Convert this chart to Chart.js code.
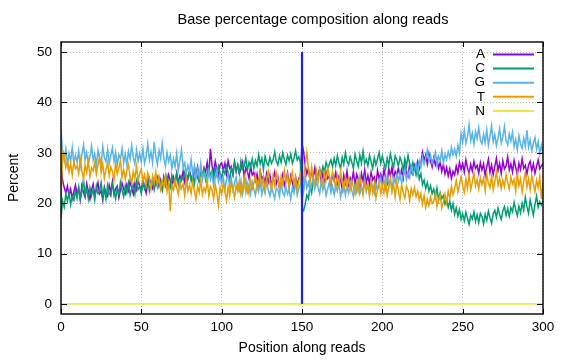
<!DOCTYPE html>
<html>
<head>
<meta charset="utf-8">
<title>Base percentage composition along reads</title>
<script src="https://cdn.jsdelivr.net/npm/chart.js@4.4.1/dist/chart.umd.min.js"></script>
<style>
  html, body { margin: 0; padding: 0; background: #fff; }
  #wrap { width: 576px; height: 360px; }
</style>
</head>
<body>
<div id="wrap"><canvas id="chart" width="576" height="360"></canvas></div>
<script>
// percent of each base at read positions 0..300 (index = position)
const pctA = [
  27.2, 24.5, 23.1, 22.0, 23.4, 21.5, 22.8, 20.9, 22.3, 23.6,
  21.8, 22.9, 20.7, 23.5, 22.1, 21.2, 23.9, 22.4, 20.8, 22.6,
  23.8, 21.5, 22.7, 24.1, 21.9, 22.5, 20.6, 23.2, 22.0, 21.4,
  23.6, 22.2, 24.3, 21.7, 22.9, 23.4, 21.1, 22.6, 24.0, 22.8,
  21.9, 23.7, 22.5, 24.4, 23.0, 21.8, 23.9, 22.7, 24.6, 23.3,
  22.4, 24.8, 23.1, 22.0, 24.2, 25.0, 23.6, 22.9, 24.7, 23.8,
  25.1, 23.4, 24.6, 22.8, 25.3, 24.0, 23.2, 25.6, 24.4, 23.7,
  25.2, 24.1, 26.0, 23.9, 25.4, 24.7, 26.3, 24.2, 25.8, 24.9,
  26.4, 25.1, 24.3, 26.7, 25.5, 27.2, 24.8, 26.1, 25.3, 27.0,
  26.2, 28.1, 25.6, 30.8, 27.4, 26.0, 28.3, 26.8, 25.4, 27.6,
  28.0, 26.5, 27.9, 25.8, 28.4, 26.9, 27.3, 25.7, 28.2, 26.4,
  27.5, 25.9, 26.8, 28.1, 25.2, 27.0, 26.3, 24.9, 27.4, 25.6,
  26.1, 24.5, 25.8, 23.7, 26.4, 24.8, 25.3, 23.9, 25.9, 24.2,
  25.6, 23.4, 24.9, 26.2, 23.8, 25.1, 22.9, 24.6, 25.8, 23.5,
  24.7, 26.0, 23.2, 25.4, 24.1, 22.8, 25.2, 23.6, 24.9, 25.5,
  32.0, 30.2, 27.4, 25.8, 26.9, 24.6, 26.3, 25.1, 27.0, 24.4,
  25.7, 26.8, 24.3, 25.9, 23.8, 26.2, 24.9, 25.4, 23.6, 25.8,
  24.5, 26.1, 23.9, 25.3, 24.7, 22.8, 25.6, 24.0, 26.4, 23.7,
  25.0, 24.2, 26.3, 23.5, 25.7, 24.8, 23.1, 25.9, 24.4, 26.6,
  24.0, 25.5, 23.8, 26.1, 24.6, 25.2, 23.4, 26.5, 24.9, 25.8,
  24.3, 26.7, 25.1, 24.0, 26.9, 25.4, 27.2, 24.8, 26.3, 25.6,
  27.0, 25.2, 26.6, 24.9, 27.4, 26.0, 25.3, 27.8, 26.2, 25.7,
  27.5, 26.4, 28.2, 26.8, 27.9, 30.1, 28.5, 29.6, 27.8, 29.9,
  28.4, 27.2, 29.0, 27.6, 28.8, 26.9, 28.1, 26.3, 27.7, 25.8,
  27.1, 25.4, 26.8, 24.9, 26.3, 25.6, 27.4, 26.0, 28.1, 26.7,
  27.9, 26.2, 28.6, 27.0, 25.8, 27.7, 26.4, 28.3, 26.9, 27.5,
  25.9, 28.0, 26.6, 27.8, 25.5, 27.2, 28.7, 26.1, 27.6, 25.7,
  27.3, 28.9, 26.5, 27.9, 25.9, 28.4, 26.8, 27.4, 29.2, 26.6,
  27.8, 26.2, 28.5, 27.1, 25.6, 27.9, 26.7, 28.8, 26.9, 27.5,
  25.8, 27.6, 28.3, 26.4, 27.8, 25.9, 27.3, 28.6, 26.8, 27.4,
  27.9
];
const pctC = [
  17.0, 20.5, 19.2, 21.8, 20.4, 22.1, 19.7, 21.3, 20.6, 22.5,
  21.0, 23.2, 20.8, 22.4, 24.6, 21.7, 22.9, 20.9, 23.1, 21.5,
  22.8, 20.6, 23.4, 21.9, 22.3, 24.1, 21.2, 22.7, 20.8, 23.6,
  22.0, 21.4, 23.8, 22.5, 20.9, 23.0, 21.8, 24.2, 22.6, 21.3,
  23.5, 22.1, 24.0, 21.6, 22.9, 23.7, 21.8, 24.4, 22.7, 23.3,
  21.9, 24.1, 22.8, 23.6, 25.0, 22.4, 23.9, 24.6, 22.7, 24.3,
  23.2, 25.1, 23.8, 22.6, 24.9, 23.5, 25.4, 24.0, 23.1, 25.6,
  24.3, 23.6, 25.8, 24.5, 23.2, 25.3, 24.7, 26.1, 23.9, 25.0,
  26.2, 24.4, 25.7, 23.8, 26.5, 25.1, 24.2, 26.0, 25.4, 26.8,
  24.6, 25.9, 27.1, 25.3, 26.4, 24.8, 26.9, 25.5, 27.3, 26.0,
  24.9, 26.7, 25.8, 27.4, 26.1, 24.6, 27.0, 25.7, 28.2, 26.3,
  27.6, 25.9, 28.4, 26.8, 27.3, 29.0, 26.5, 28.1, 27.2, 28.8,
  26.9, 28.5, 27.4, 29.6, 27.8, 28.9, 26.7, 29.3, 28.0, 27.5,
  29.1, 27.9, 28.6, 30.2, 28.3, 27.6, 29.4, 28.1, 30.0, 28.7,
  27.7, 29.5, 28.4, 29.8, 27.9, 28.9, 30.4, 28.6, 29.2, 28.1,
  19.0, 18.5, 19.8, 21.6, 20.9, 23.4, 22.1, 24.5, 23.7, 25.9,
  24.8, 26.6, 25.7, 27.3, 26.2, 28.1, 26.9, 27.8, 28.6, 27.2,
  28.9, 27.5, 29.4, 28.0, 26.8, 29.1, 27.7, 30.0, 28.3, 27.6,
  29.2, 28.1, 26.9, 29.7, 28.4, 27.3, 29.6, 28.0, 30.3, 27.8,
  28.7, 27.4, 29.5, 28.2, 26.9, 29.0, 27.6, 28.8, 30.1, 27.9,
  29.3, 28.0, 26.8, 28.9, 27.5, 29.8, 28.3, 27.1, 29.4, 28.6,
  27.4, 29.1, 28.2, 26.6, 28.8, 27.3, 29.5, 27.8, 26.4, 28.1,
  26.9, 25.6, 27.3, 24.8, 25.9, 23.7, 24.6, 22.9, 24.1, 22.4,
  23.5, 21.9, 22.8, 21.2, 23.0, 20.6, 22.1, 20.9, 21.5, 19.8,
  20.7, 19.2, 20.4, 18.6, 19.9, 17.8, 19.1, 17.4, 18.7, 16.8,
  17.9, 16.5, 18.2, 17.0, 15.8, 17.6, 16.9, 18.3, 16.4, 17.7,
  16.1, 18.0, 17.3, 15.9, 17.8, 16.6, 18.4, 17.1, 16.0, 17.9,
  18.6, 17.2, 19.0, 17.7, 16.8, 18.5, 19.3, 17.6, 18.9, 17.4,
  19.1, 18.3, 20.2, 18.7, 17.5, 19.4, 18.1, 20.0, 18.6, 21.2,
  19.3, 18.0, 20.6, 19.1, 17.6, 19.8, 21.4, 19.2, 20.3, 19.6,
  20.4
];
const pctG = [
  34.5, 30.2, 28.4, 30.8, 27.6, 29.9, 28.3, 31.1, 27.9, 29.5,
  28.1, 30.4, 27.3, 29.7, 31.6, 28.5, 30.0, 27.8, 29.2, 31.4,
  28.6, 29.8, 27.4, 30.5, 28.9, 27.7, 31.2, 29.0, 28.2, 30.7,
  27.9, 29.4, 31.0, 28.3, 30.1, 27.5, 29.6, 28.8, 30.9, 28.0,
  29.7, 27.6, 30.3, 28.7, 31.5, 29.1, 27.8, 30.6, 28.4, 29.9,
  28.2, 30.8, 27.9, 29.3, 31.8, 28.6, 30.2, 28.0, 32.2, 29.4,
  27.7, 30.5, 28.9, 31.9, 29.0, 27.4, 30.1, 28.3, 29.6, 26.9,
  28.8, 27.2, 29.9, 26.5, 28.4, 30.6, 27.1, 28.0, 25.8, 27.5,
  26.3, 28.7, 25.6, 27.4, 24.9, 26.8, 25.2, 27.9, 24.6, 26.1,
  25.3, 23.8, 26.4, 24.7, 25.9, 23.5, 25.0, 26.6, 24.2, 25.4,
  23.9, 25.1, 22.8, 24.6, 25.7, 23.3, 24.8, 22.6, 24.0, 25.2,
  23.1, 22.4, 24.5, 21.8, 23.6, 24.9, 22.3, 23.7, 21.9, 24.2,
  22.8, 21.6, 23.9, 22.4, 24.1, 21.7, 23.2, 22.0, 24.6, 22.5,
  21.4, 23.5, 22.1, 20.9, 23.0, 22.6, 21.3, 24.0, 22.2, 21.5,
  23.3, 21.8, 22.7, 20.8, 23.1, 22.0, 24.2, 21.6, 22.9, 23.8,
  24.6, 22.3, 25.4, 23.0, 24.1, 22.5, 23.7, 25.0, 22.8, 24.3,
  23.1, 21.9, 24.4, 22.6, 23.8, 21.5, 22.9, 24.2, 22.1, 23.4,
  21.7, 23.6, 22.4, 24.0, 21.2, 22.8, 23.9, 21.6, 23.3, 22.0,
  24.1, 22.5, 21.3, 23.7, 22.2, 24.4, 21.9, 23.0, 22.6, 24.8,
  22.3, 23.6, 21.8, 24.5, 23.1, 22.0, 24.0, 22.7, 23.5, 25.1,
  23.2, 24.6, 22.9, 25.3, 23.8, 24.7, 22.6, 25.0, 24.1, 25.8,
  24.4, 26.0, 23.9, 25.5, 26.8, 24.7, 26.2, 25.1, 27.3, 25.9,
  26.6, 27.8, 25.8, 28.4, 27.1, 29.2, 27.7, 28.9, 30.6, 28.3,
  29.5, 27.9, 28.8, 30.1, 27.6, 29.3, 28.5, 30.4, 28.0, 29.7,
  28.7, 30.2, 29.0, 31.1, 29.6, 30.8, 29.3, 31.5, 30.0, 33.8,
  32.1, 34.5, 31.9, 33.2, 35.6, 32.4, 33.9, 31.7, 34.2, 32.8,
  35.0, 32.6, 31.8, 33.7, 32.0, 34.6, 31.5, 33.3, 35.4, 32.2,
  33.6, 31.4, 32.9, 34.8, 31.9, 33.1, 35.2, 32.5, 31.6, 33.8,
  32.3, 34.1, 31.2, 32.7, 30.6, 33.4, 31.8, 30.9, 32.9, 31.3,
  34.5, 31.1, 32.6, 30.4, 31.9, 33.0, 30.7, 32.2, 29.8, 31.5,
  29.9
];
const pctT = [
  20.3, 30.4, 29.8, 27.1, 28.5, 26.2, 27.9, 25.6, 28.3, 26.8,
  27.4, 25.9, 28.8, 26.5, 24.7, 27.6, 26.1, 28.4, 25.3, 27.0,
  26.4, 28.1, 25.7, 27.5, 29.2, 26.0, 27.8, 24.9, 26.6, 28.0,
  25.4, 27.2, 26.3, 24.6, 27.9, 25.8, 26.9, 28.5, 25.1, 26.7,
  24.8, 26.5, 27.7, 25.2, 23.9, 26.3, 25.0, 27.4, 24.5, 25.9,
  26.8, 24.3, 25.6, 23.7, 26.0, 24.9, 22.8, 25.4, 24.1, 26.2,
  23.6, 25.1, 22.7, 24.4, 23.2, 25.5, 22.3, 24.0, 18.4, 23.5,
  22.6, 24.7, 23.1, 21.8, 24.2, 22.9, 23.8, 21.5, 24.9, 22.4,
  23.6, 21.9, 24.3, 22.5, 20.8, 23.4, 22.1, 24.6, 21.7, 23.0,
  22.2, 24.5, 21.4, 23.3, 22.6, 20.9, 23.7, 22.0, 19.6, 23.1,
  21.8, 23.9, 22.4, 20.6, 23.2, 21.5, 24.1, 22.7, 21.1, 23.5,
  22.3, 24.4, 21.6, 23.0, 25.2, 22.1, 23.8, 21.9, 24.6, 22.8,
  23.9, 25.6, 22.7, 24.3, 26.1, 23.4, 25.0, 22.5, 24.8, 26.3,
  24.0, 22.6, 25.4, 23.5, 26.0, 24.7, 22.9, 25.3, 23.8, 26.5,
  24.2, 25.7, 23.1, 24.9, 26.2, 23.6, 25.1, 22.4, 24.5, 25.8,
  23.0, 24.8, 27.6, 30.1, 26.9, 24.3, 27.2, 25.0, 23.8, 26.4,
  24.1, 26.7, 25.2, 23.5, 26.0, 24.6, 27.1, 25.3, 23.9, 26.2,
  24.8, 22.9, 25.5, 23.7, 26.3, 24.2, 22.6, 25.1, 23.4, 24.9,
  22.7, 24.5, 23.1, 21.8, 24.0, 22.4, 25.2, 23.3, 21.6, 24.1,
  22.8, 23.6, 21.4, 24.3, 22.1, 23.9, 20.9, 22.6, 24.4, 21.9,
  23.4, 22.0, 24.6, 21.5, 23.2, 25.0, 22.3, 23.8, 21.2, 24.2,
  22.5, 20.8, 23.7, 22.1, 21.0, 23.4, 22.6, 20.5, 22.9, 21.7,
  23.1, 21.3, 22.4, 20.6, 21.9, 19.8, 21.5, 19.2, 20.8, 19.5,
  21.2, 19.9, 20.4, 22.0, 19.3, 20.7, 21.6, 19.0, 20.3, 21.8,
  20.1, 22.4, 21.0, 23.3, 21.7, 22.9, 24.5, 22.2, 23.6, 25.3,
  23.4, 22.1, 24.8, 23.0, 25.6, 22.7, 24.2, 26.0, 23.5, 24.7,
  22.8, 25.1, 23.7, 24.9, 22.5, 25.8, 24.0, 23.1, 25.4, 22.6,
  24.3, 26.2, 23.6, 25.0, 22.9, 24.6, 23.3, 25.7, 24.1, 22.8,
  25.2, 23.8, 24.7, 22.4, 25.9, 23.5, 24.8, 22.2, 24.4, 26.1,
  23.2, 24.9, 22.7, 25.5, 23.9, 22.3, 24.6, 23.1, 25.3, 20.8,
  24.2
];
// N stays at zero over the whole read
const nPositions = [0, 300];
const pctN = [0, 0];

// read1 / read2 boundary marker
const boundaryPos = [150, 150];
const boundaryPct = [0, 50];

const xTicks = [0, 50, 100, 150, 200, 250, 300];
const yTicks = [0, 10, 20, 30, 40, 50];

const chartTitle = 'Base percentage composition along reads';

const FONT = '"Liberation Sans", Arial, sans-serif';

function toPoints(values, xs) {
    return values.map((v, i) => ({ x: xs ? xs[i] : i, y: v }));
}

function lineSet(label, values, color, order, xs) {
    return {
        label: label,
        data: toPoints(values, xs),
        borderColor: color,
        backgroundColor: color,
        borderWidth: 1.5,
        pointRadius: 0,
        tension: 0,
        fill: false,
        order: order
    };
}

// gnuplot style box round the plot with inward ticks on all four sides
const framePlugin = {
    id: 'frame',
    afterDraw(chart) {
        const ctx = chart.ctx;
        const a = chart.chartArea;
        const xs = chart.scales.x;
        const ys = chart.scales.y;
        ctx.save();
        ctx.strokeStyle = '#000';
        ctx.lineWidth = 1;
        xTicks.forEach(t => {
            const px = Math.round(xs.getPixelForValue(t)) + 0.5;
            ctx.beginPath();
            ctx.moveTo(px, a.bottom); ctx.lineTo(px, a.bottom - 5);
            ctx.moveTo(px, a.top); ctx.lineTo(px, a.top + 5);
            ctx.stroke();
        });
        yTicks.forEach(t => {
            const py = Math.round(ys.getPixelForValue(t)) + 0.5;
            ctx.beginPath();
            ctx.moveTo(a.left, py); ctx.lineTo(a.left + 6, py);
            ctx.moveTo(a.right, py); ctx.lineTo(a.right - 6, py);
            ctx.stroke();
        });
        ctx.lineWidth = 1.4;
        ctx.strokeRect(a.left, a.top, a.right - a.left, a.bottom - a.top);

        // title sits a little right of centre, as gnuplot puts it
        ctx.fillStyle = '#000';
        ctx.font = '14.5px ' + FONT;
        ctx.textAlign = 'center';
        ctx.textBaseline = 'middle';
        ctx.fillText(chartTitle, 313, 20);
        ctx.restore();
    }
};

// key in the top right corner: label right aligned, then a short line
const keyPlugin = {
    id: 'key',
    afterDatasetsDraw(chart) {
        const ctx = chart.ctx;
        ctx.save();
        ctx.font = '13.5px ' + FONT;
        ctx.textAlign = 'right';
        ctx.textBaseline = 'middle';
        let row = 0;
        chart.data.datasets.forEach(ds => {
            if (!ds.label) return;
            const y = 54.5 + row * 14.1;
            ctx.fillStyle = '#000';
            ctx.fillText(ds.label, 485, y);
            ctx.strokeStyle = ds.borderColor;
            ctx.lineWidth = 2;
            ctx.beginPath();
            ctx.moveTo(493, y); ctx.lineTo(534, y);
            ctx.stroke();
            row++;
        });
        ctx.restore();
    }
};

window.addEventListener("load", () => {
    const ctx = document.getElementById("chart").getContext("2d");

    const boundary = lineSet('', boundaryPct, 'rgb(30,30,245)', 1, boundaryPos);
    boundary.borderWidth = 2.2;

    new Chart(ctx, {
        type: 'line',
        data: {
            datasets: [
                lineSet('A', pctA, '#9400D3', 7),
                lineSet('C', pctC, '#009E73', 6),
                lineSet('G', pctG, '#56B4E9', 5),
                lineSet('T', pctT, '#E69F00', 4),
                lineSet('N', pctN, '#F0E442', 3, nPositions),
                boundary
            ]
        },
        options: {
            responsive: false,
            animation: false,
            layout: { padding: { left: 0, right: 33, top: 42, bottom: 0 } },
            plugins: {
                legend: { display: false },
                tooltip: { enabled: false },
                title: { display: false }
            },
            scales: {
                x: {
                    type: 'linear',
                    min: 0,
                    max: 300,
                    afterBuildTicks: s => { s.ticks = xTicks.map(v => ({ value: v })); },
                    afterFit: s => { s.height = 46; },
                    grid: { color: '#b8b8b8', lineWidth: 1, drawTicks: false },
                    border: { display: false, dash: [1, 2] },
                    ticks: { padding: 5, color: '#000', maxRotation: 0, font: { family: FONT, size: 13.5 } },
                    title: {
                        display: true,
                        text: 'Position along reads',
                        color: '#000',
                        font: { family: FONT, size: 14 },
                        padding: { top: 0, bottom: 3 }
                    }
                },
                y: {
                    min: -2,
                    max: 52,
                    afterBuildTicks: s => { s.ticks = yTicks.map(v => ({ value: v })); },
                    afterFit: s => { s.width = 61; },
                    grid: { color: '#b8b8b8', lineWidth: 1, drawTicks: false },
                    border: { display: false, dash: [1, 2] },
                    ticks: { padding: 9, color: '#000', font: { family: FONT, size: 13.5 } },
                    title: {
                        display: true,
                        text: 'Percent',
                        color: '#000',
                        font: { family: FONT, size: 14 },
                        padding: { top: 6, bottom: 0 }
                    }
                }
            }
        },
        plugins: [framePlugin, keyPlugin]
    });
});
</script>
</body>
</html>
